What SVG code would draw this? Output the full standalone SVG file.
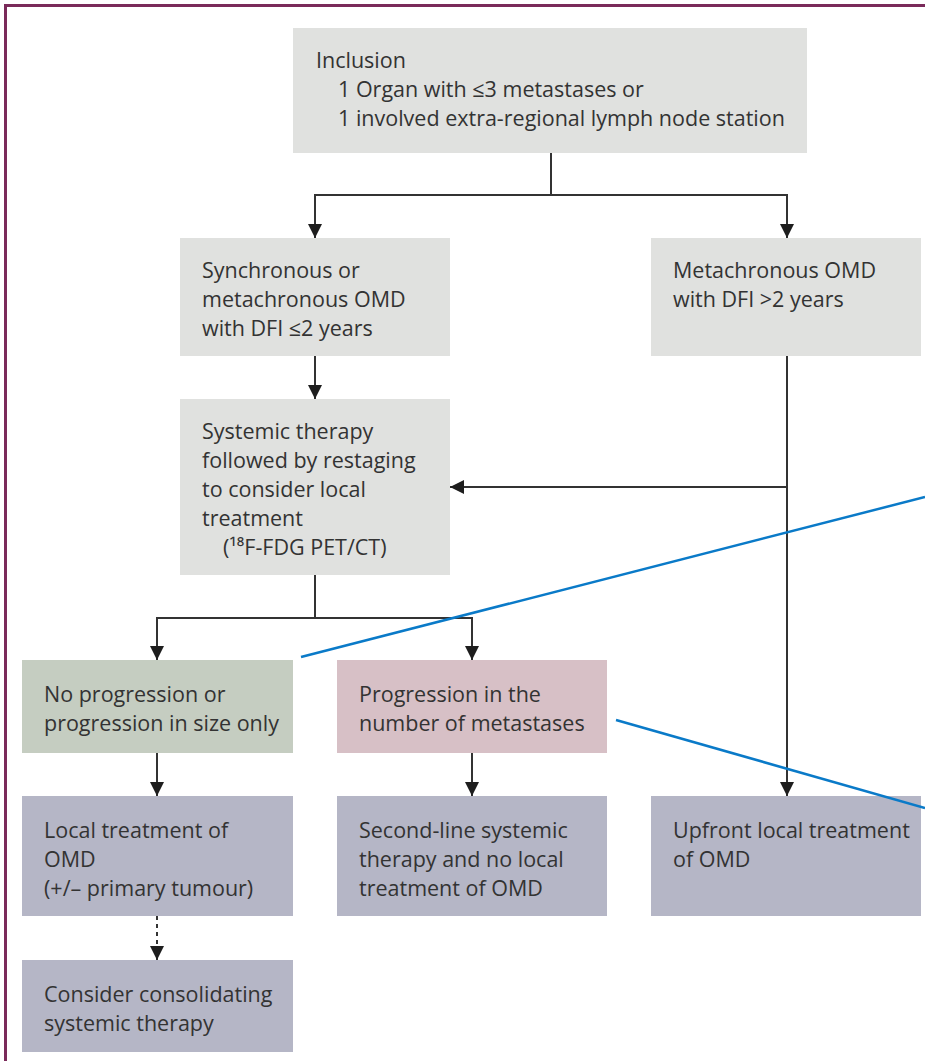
<svg xmlns="http://www.w3.org/2000/svg" width="925" height="1061" viewBox="0 0 925 1061">
<defs>
<marker id="ah" viewBox="0 0 14 14" refX="14" refY="7" markerWidth="14" markerHeight="14" markerUnits="userSpaceOnUse" orient="auto">
<path d="M0,0 L14,7 L0,14 Z" fill="#1e1e1e"/>
</marker>
<style>
.t{font-family:"Open Sans","Noto Sans",sans-serif;font-size:21.5px;fill:#333333}
.g{fill:#e0e1df}
.gr{fill:#c5cdc1}
.pk{fill:#d7c0c6}
.bl{fill:#b5b6c6}
.c{fill:none;stroke:#333333;stroke-width:2}
.d{fill:none;stroke:#333333;stroke-width:2;stroke-dasharray:4 4}
.b{fill:none;stroke:#0a7ac8;stroke-width:2.5}
</style>
</defs>
<rect width="925" height="1061" fill="#ffffff"/>
<path d="M5.5,1061 V5.5 H925" fill="none" stroke="#7a2a5a" stroke-width="3"/>
<g id="connectors">
<path class="c" d="M551,153 V195"/>
<path class="c" d="M551,195 H315 V238" marker-end="url(#ah)"/>
<path class="c" d="M551,195 H787 V238" marker-end="url(#ah)"/>
<path class="c" d="M315,356 V399" marker-end="url(#ah)"/>
<path class="c" d="M787,356 V796" marker-end="url(#ah)"/>
<path class="c" d="M787,487 H450" marker-end="url(#ah)"/>
<path class="c" d="M315,575 V618"/>
<path class="c" d="M315,618 H157 V660" marker-end="url(#ah)"/>
<path class="c" d="M315,618 H472 V660" marker-end="url(#ah)"/>
<path class="c" d="M157,753 V796" marker-end="url(#ah)"/>
<path class="c" d="M472,753 V796" marker-end="url(#ah)"/>
<path class="d" d="M157,916 V960" marker-end="url(#ah)"/>
</g>
<g id="inclusion">
<rect class="g" x="293" y="28" width="514" height="125"/>
<text class="t" x="316" y="68">Inclusion</text>
<text class="t" x="338" y="97">1 Organ with ≤3 metastases or</text>
<text class="t" x="338" y="126">1 involved extra-regional lymph node station</text>
</g>
<g id="synchronous">
<rect class="g" x="180" y="238" width="270" height="118"/>
<text class="t" x="202" y="278">Synchronous or</text>
<text class="t" x="202" y="307">metachronous OMD</text>
<text class="t" x="202" y="336">with DFI ≤2 years</text>
</g>
<g id="metachronous">
<rect class="g" x="651" y="238" width="270" height="118"/>
<text class="t" x="673" y="278">Metachronous OMD</text>
<text class="t" x="673" y="307">with DFI &gt;2 years</text>
</g>
<g id="systemic">
<rect class="g" x="180" y="399" width="270" height="176"/>
<text class="t" x="202" y="439">Systemic therapy</text>
<text class="t" x="202" y="468">followed by restaging</text>
<text class="t" x="202" y="497">to consider local</text>
<text class="t" x="202" y="526">treatment</text>
<text class="t" x="223" y="555">(¹⁸F-FDG PET/CT)</text>
</g>
<g id="noprogression">
<rect class="gr" x="22" y="660" width="271" height="93"/>
<text class="t" x="44" y="702">No progression or</text>
<text class="t" x="44" y="731">progression in size only</text>
</g>
<g id="progression">
<rect class="pk" x="337" y="660" width="270" height="93"/>
<text class="t" x="359" y="702">Progression in the</text>
<text class="t" x="359" y="731">number of metastases</text>
</g>
<g id="local">
<rect class="bl" x="22" y="796" width="271" height="120"/>
<text class="t" x="44" y="838">Local treatment of</text>
<text class="t" x="44" y="867">OMD</text>
<text class="t" x="44" y="896">(+/– primary tumour)</text>
</g>
<g id="secondline">
<rect class="bl" x="337" y="796" width="270" height="120"/>
<text class="t" x="359" y="838">Second-line systemic</text>
<text class="t" x="359" y="867">therapy and no local</text>
<text class="t" x="359" y="896">treatment of OMD</text>
</g>
<g id="upfront">
<rect class="bl" x="651" y="796" width="270" height="120"/>
<text class="t" x="673" y="838">Upfront local treatment</text>
<text class="t" x="673" y="867">of OMD</text>
</g>
<g id="consider">
<rect class="bl" x="22" y="960" width="271" height="92"/>
<text class="t" x="44" y="1002">Consider consolidating</text>
<text class="t" x="44" y="1031">systemic therapy</text>
</g>
<g id="annotations">
<path class="b" d="M301,657 L925,497"/>
<path class="b" d="M616,720 L925,808"/>
</g>
</svg>
